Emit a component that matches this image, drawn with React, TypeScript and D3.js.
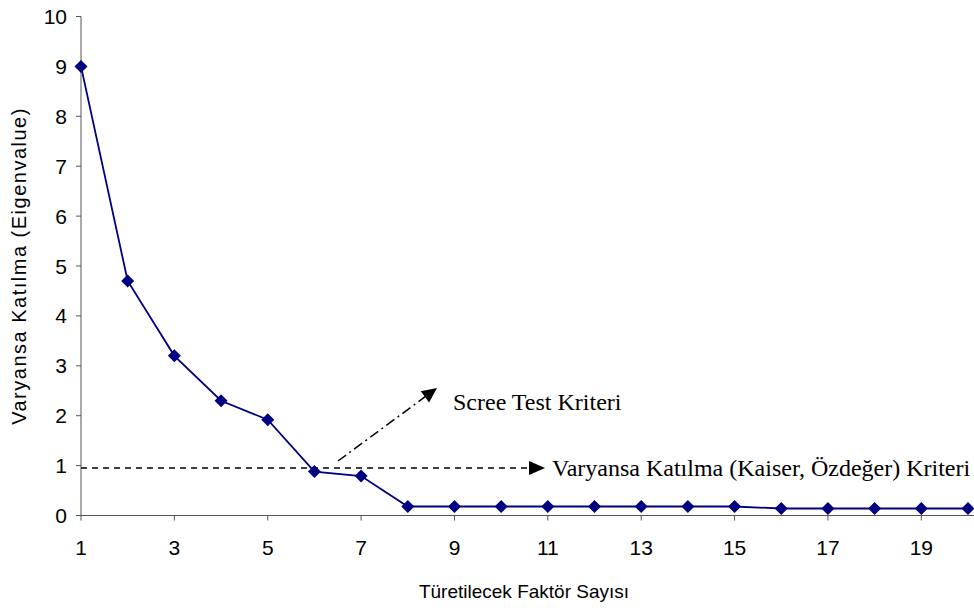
import React from "react";
import * as d3 from "d3";

const factors = [1,2,3,4,5,6,7,8,9,10,11,12,13,14,15,16,17,18,19,20];
const eigenvalues = [9.0,4.7,3.2,2.3,1.92,0.88,0.79,0.18,0.18,0.18,0.18,0.18,0.18,0.18,0.18,0.14,0.14,0.14,0.14,0.14];
const yTicks = [0,1,2,3,4,5,6,7,8,9,10];
const xTicks = [1,3,5,7,9,11,13,15,17,19];
const kaiserLevel = 0.95;
const yTitle = "Varyansa Katılma (Eigenvalue)";
const xTitle = "Türetilecek Faktör Sayısı";
const screeLabel = "Scree Test Kriteri";
const kaiserLabel = "Varyansa Katılma (Kaiser, Özdeğer) Kriteri";

export default function App() {
  const W = 974, H = 608;
  const x = d3.scaleLinear().domain([1, 20]).range([81, 968]);
  const y = d3.scaleLinear().domain([0, 10]).range([515.5, 16.5]);
  const line = d3.line<number>().x((_, i) => x(factors[i])).y(d => y(d));
  const navy = "#000080";
  const axisColor = "#555";
  const diamond = (cx: number, cy: number) => `M${cx},${cy-6.5}L${cx+6.5},${cy}L${cx},${cy+6.5}L${cx-6.5},${cy}Z`;
  const ky = y(kaiserLevel);
  const sx1 = 338, sy1 = 461, sx2 = 437, sy2 = 388;
  const ang = Math.atan2(sy2 - sy1, sx2 - sx1);
  const ah = 15, aw = 7;
  const tri = (tx: number, ty: number, a: number) => {
    const bx = tx - ah * Math.cos(a), by = ty - ah * Math.sin(a);
    const px = -Math.sin(a) * aw, py = Math.cos(a) * aw;
    return `M${tx},${ty}L${bx+px},${by+py}L${bx-px},${by-py}Z`;
  };
  return (
    <svg width={W} height={H} style={{ position: "absolute", left: 0, top: 0, background: "#fff" }}>
      <g fontFamily="Arial, 'Liberation Sans', sans-serif" fill="#000">
        <line x1={x(1)} x2={x(1)} y1={y(10)} y2={y(0)} stroke={axisColor} strokeWidth={1} />
        {yTicks.map(t => (
          <g key={t}>
            <line x1={x(1) - 5} x2={x(1)} y1={y(t)} y2={y(t)} stroke={axisColor} />
            <text x={67} y={y(t)} dy="0.36em" textAnchor="end" fontSize={21}>{t}</text>
          </g>
        ))}
        <line x1={x(1)} x2={W} y1={y(0)} y2={y(0)} stroke={axisColor} strokeWidth={1} />
        {xTicks.map(t => (
          <g key={t}>
            <line x1={x(t)} x2={x(t)} y1={y(0)} y2={y(0) + 5} stroke={axisColor} />
            <text x={x(t)} y={555} textAnchor="middle" fontSize={21}>{t}</text>
          </g>
        ))}
        <text transform={`translate(26,${266}) rotate(-90)`} textAnchor="middle" fontSize={20} letterSpacing={1.5}>{yTitle}</text>
        <text x={524} y={598} textAnchor="middle" fontSize={19}>{xTitle}</text>
      </g>
      <line x1={x(1)} x2={527} y1={ky} y2={ky} stroke="#000" strokeWidth={1.5} strokeDasharray="6,5" />
      <path d={`M529,${ky-7}L545,${ky}L529,${ky+7}Z`} fill="#000" />
      <text x={552} y={476} fontFamily="'Liberation Serif', 'Times New Roman', serif" fontSize={24}>{kaiserLabel}</text>
      <line x1={sx1} y1={sy1} x2={sx2 - 12 * Math.cos(ang)} y2={sy2 - 12 * Math.sin(ang)} stroke="#000" strokeWidth={1.5} strokeDasharray="10,4,2,4" />
      <path d={tri(sx2, sy2, ang)} fill="#000" />
      <text x={453} y={410} fontFamily="'Liberation Serif', 'Times New Roman', serif" fontSize={24}>{screeLabel}</text>
      <path d={line(eigenvalues) || ""} fill="none" stroke={navy} strokeWidth={1.8} />
      {eigenvalues.map((v, i) => (
        <path key={i} d={diamond(x(factors[i]), y(v))} fill={navy} />
      ))}
    </svg>
  );
}
